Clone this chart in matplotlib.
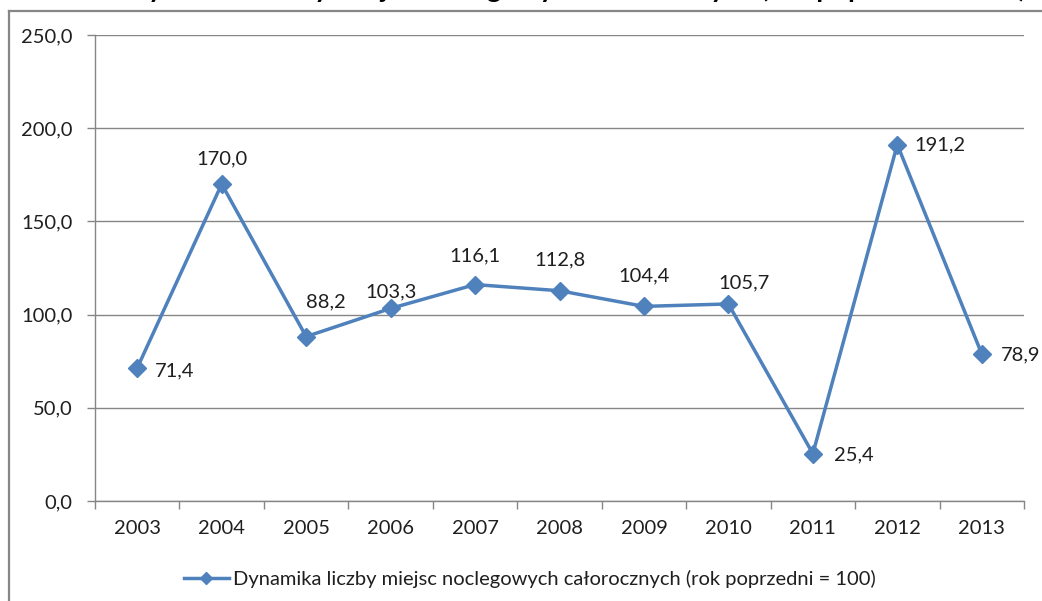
import numpy as np
import matplotlib
matplotlib.use("Agg")
import matplotlib.pyplot as plt
from matplotlib.lines import Line2D
from matplotlib.ticker import FixedLocator, NullFormatter, FuncFormatter

plt.rcParams['font.family'] = ['Lato', 'DejaVu Sans']

# dane: dynamika liczby miejsc noclegowych (rok poprzedni = 100)
years = ['2003', '2004', '2005', '2006', '2007', '2008',
         '2009', '2010', '2011', '2012', '2013']
values = [71.4, 170.0, 88.2, 103.3, 116.1, 112.8, 104.4, 105.7, 25.4, 191.2, 78.9]
series_name = 'Dynamika liczby miejsc noclegowych całorocznych (rok poprzedni = 100)'
title_text = 'Dynamika liczby miejsc noclegowych całorocznych (rok poprzedni = 100)'

# przesunięcia etykiet danych (w punktach) i wyrównanie
label_offsets = [(13, -2), (0, 18), (0, 25), (0, 12), (0, 21), (0, 22),
                 (0, 22), (11, 15), (15, -1), (12, 0), (14, -1)]
label_ha = ['left', 'center', 'left', 'center', 'center', 'center',
            'center', 'center', 'left', 'left', 'left']

blue = '#4F81BD'
grid = '#868686'
text_col = '#1f1f1f'
fs = 14.5

fig = plt.figure(figsize=(10.42, 6.01), dpi=100)
ax = fig.add_axes([0.0912, 0.1664, 0.8915, 0.7754])

x = np.arange(len(years))
ax.plot(x, values, color=blue, lw=2.5, marker='D', ms=9.5,
        markeredgecolor=blue, markerfacecolor=blue, label=series_name,
        solid_joinstyle='miter', clip_on=False, zorder=3)

for xi, v, off, ha in zip(x, values, label_offsets, label_ha):
    ax.annotate(f'{v:.1f}'.replace('.', ','), (xi, v), xytext=off,
                textcoords='offset points', ha=ha, va='center',
                fontsize=fs, color=text_col, annotation_clip=False)

ax.set_xlim(-0.5, len(years) - 0.5)
ax.set_ylim(0, 250)
ax.set_yticks(np.arange(0, 251, 50))
ax.yaxis.set_major_formatter(FuncFormatter(lambda v, p: f'{v:.1f}'.replace('.', ',')))
ax.yaxis.grid(True, color=grid, lw=1.0)
ax.set_axisbelow(True)

ax.set_xticks(x)
ax.set_xticklabels(years)
ax.xaxis.set_minor_locator(FixedLocator(np.arange(-0.5, len(years), 1.0)))
ax.xaxis.set_minor_formatter(NullFormatter())
ax.tick_params(axis='x', which='major', length=0, pad=14, labelsize=fs, labelcolor=text_col)
ax.tick_params(axis='x', which='minor', length=6, width=1.0, color=grid, direction='out')
ax.tick_params(axis='y', length=6, width=1.0, color=grid, pad=10, labelsize=fs, labelcolor=text_col)

for s in ['top', 'right']:
    ax.spines[s].set_visible(False)
for s in ['left', 'bottom']:
    ax.spines[s].set_color(grid)
    ax.spines[s].set_linewidth(1.0)

leg = ax.legend(loc='upper center', bbox_to_anchor=(0.468, -0.11), frameon=False,
                fontsize=fs, handlelength=2.25, handletextpad=0.2, markerscale=0.65,
                labelcolor=text_col)

# ramka wykresu (obramowanie obszaru)
fig.add_artist(Line2D([9 / 1042, 1.0], [1 - 11 / 601, 1 - 11 / 601],
                      transform=fig.transFigure, color=grid, lw=1.6))
fig.add_artist(Line2D([9 / 1042, 9 / 1042], [0.0, 1 - 11 / 601],
                      transform=fig.transFigure, color=grid, lw=1.6))

# tytuł (wychodzi poza górną krawędź)
fig.text(0.122, 1.0045, title_text, ha='left', va='baseline', fontsize=20,
         fontweight='bold', color='black')

fig.savefig('out.png', dpi=100)
